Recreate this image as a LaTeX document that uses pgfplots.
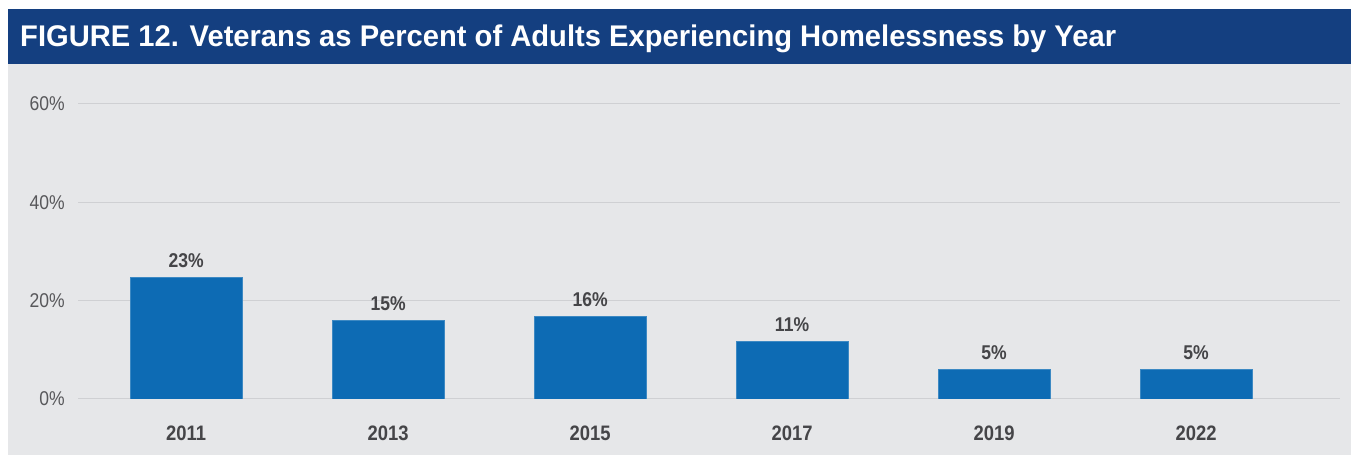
\documentclass[border=0pt]{standalone}
\usepackage{fontspec}
\setmainfont[FakeStretch=0.88]{Liberation Sans}
\newfontfamily\titlefont[FakeStretch=0.975]{Liberation Sans}
\usepackage{graphicx}
\usepackage{pgfplots}
\pgfplotsset{compat=1.18}
\definecolor{titleblue}{HTML}{143F80}
\definecolor{panelgray}{HTML}{E6E7E9}
\definecolor{barblue}{HTML}{0D6BB4}
\definecolor{gridgray}{HTML}{CFD0D3}
\definecolor{valtext}{HTML}{454548}
\definecolor{ticktext}{HTML}{58585B}
\begin{document}
\begin{tikzpicture}[x=1bp,y=1bp]
\useasboundingbox (0,0) rectangle (1351,459);
\fill[white] (0,0) rectangle (1351,459);
\fill[panelgray] (8,4) rectangle (1351,395);
\fill[titleblue] (8,395) rectangle (1351,450);
\node[anchor=base west, inner sep=0, text=white, font=\titlefont\fontsize{30}{32}\selectfont\bfseries] at (20,412)
  {FIGURE 12. Veterans as Percent of Adults Experiencing Homelessness by Year};
\begin{axis}[
  at={(78bp,60bp)}, anchor=south west,
  scale only axis, width=1262bp, height=295bp,
  xmin=-0.535, xmax=5.713, ymin=0, ymax=60,
  axis line style={draw=none},
  major tick length=0,
  ymajorgrids, grid style={gridgray, line width=1bp},
  ytick={0,20,40,60},
  yticklabels={0\%,20\%,40\%,60\%},
  yticklabel style={anchor=east, inner sep=0, xshift=-13bp, text=ticktext, font=\fontsize{20}{22}\selectfont},
  xtick={0,1,2,3,4,5},
  xticklabels={2011,2013,2015,2017,2019,2022},
  xticklabel style={anchor=base, inner sep=0, yshift=-42bp, text=valtext, font=\fontsize{21}{22}\selectfont\bfseries},
  ybar, bar width=112bp,
  point meta=explicit symbolic,
  nodes near coords,
  nodes near coords style={anchor=base, inner sep=0, yshift=10bp, text=valtext, font=\fontsize{20}{22}\selectfont\bfseries},
]
\addplot[fill=barblue, draw=barblue!80!white, line width=0.5bp, bar shift=0pt] coordinates {
  (0,24.8) [23\%]
  (1,16.0) [15\%]
  (2,16.8) [16\%]
  (3,11.7) [11\%]
  (4,6.1) [5\%]
  (5,6.1) [5\%]
};
\end{axis}
\end{tikzpicture}
\end{document}
